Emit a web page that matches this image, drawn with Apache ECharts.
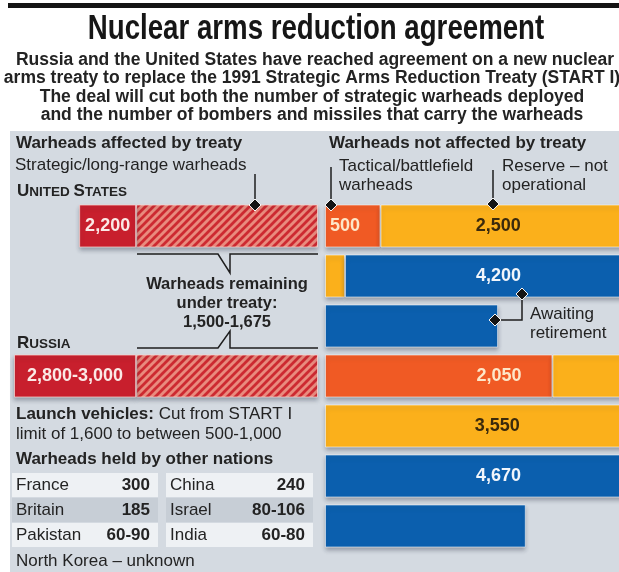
<!DOCTYPE html>
<html>
<head>
<meta charset="utf-8">
<title>Nuclear arms reduction agreement</title>
<script src="https://cdn.jsdelivr.net/npm/echarts@6/dist/echarts.min.js"></script>
<style>
  html, body { margin: 0; padding: 0; background: #fff; }
  #chart { width: 619px; height: 572px; }
</style>
</head>
<body>
<div id="chart"></div>
<script>
const countries = ['UNITED STATES', 'RUSSIA'];
const strategicTotal = [2200, 2800];            // Russia drawn at the low end of 2,800-3,000
const strategicLabels = ['2,200', '2,800-3,000'];
const remainingRange = [1500, 1675];
const tacticalWarheads = [500, 2050];
const reserveWarheads = [2500, 3550];
const awaitingRetirement = [4200, 4670];
const otherNations = ['France', 'Britain', 'Pakistan', 'China', 'Israel', 'India'];
const otherWarheads = ['300', '185', '60-90', '240', '80-106', '60-80'];

const FONT = '"Liberation Sans", Arial, sans-serif';
const INK = '#232323';

// right hand bars wrap onto the next row after ROW_MAX warheads;
// the picture is cut at the right edge, so only RIGHT_VISIBLE of each row shows
const ROW_MAX = 2820;
const RIGHT_VISIBLE = 2650;
const LEFT_MAX = 2800;

const segNames = ['Tactical/battlefield', 'Reserve', 'Awaiting retirement'];
const segValues = [tacticalWarheads, reserveWarheads, awaitingRetirement];
const segColors = ['#f05a24', '#fbb01b', '#0b5fae'];
const segLabelColors = ['#fde6c8', '#3b2a0c', '#f2f6fb'];
// label nudges [country][segment]
const labelNudge = [
  [{ position: 'insideLeft', distance: 5 }, { offset: [-11, 0] }, { offset: [7, 0] }],
  [{ position: 'insideRight', distance: 31 }, { offset: [18, 0] }, { offset: [17, 0] }]
];

function packRows(values, rowMax) {
  const rows = [];
  let row = values.map(() => 0), used = 0;
  values.forEach((v, i) => {
    let left = v;
    while (left > 0) {
      const take = Math.min(left, rowMax - used);
      row[i] += take; used += take; left -= take;
      if (used >= rowMax) { rows.push(row); row = values.map(() => 0); used = 0; }
    }
  });
  if (used > 0) rows.push(row);
  return rows;
}

const rowsPerCountry = countries.map((c, ci) => packRows(segValues.map(s => s[ci]), ROW_MAX));
const categories = [];
rowsPerCountry.forEach((rows, ci) => rows.forEach((r, ri) => categories.push(ci + '-' + ri)));
const firstRow = rowsPerCountry.map((rows, ci) => rowsPerCountry.slice(0, ci).reduce((n, r) => n + r.length, 0));

function hatch() {
  const c = document.createElement('canvas');
  c.width = c.height = 8;
  const g = c.getContext('2d');
  g.fillStyle = '#e98b7e';
  g.fillRect(0, 0, 8, 8);
  g.strokeStyle = '#cd2a31';
  g.lineWidth = 2.8;
  g.beginPath();
  g.moveTo(-2, 2); g.lineTo(2, -2);
  g.moveTo(0, 8); g.lineTo(8, 0);
  g.moveTo(6, 10); g.lineTo(10, 6);
  g.stroke();
  return c;
}

const barShadow = { shadowColor: 'rgba(40,50,70,0.35)', shadowBlur: 4, shadowOffsetY: 3 };

// left: strategic warheads, hatched part = remaining under treaty
const remainingData = categories.map(() => '-');
const cutData = categories.map(() => '-');
countries.forEach((c, ci) => {
  remainingData[firstRow[ci]] = remainingRange[1];
  cutData[firstRow[ci]] = {
    value: strategicTotal[ci] - remainingRange[1],
    label: { show: true, formatter: strategicLabels[ci] }
  };
});

const leftSeries = [
  {
    type: 'bar', name: 'Remaining', xAxisIndex: 0, yAxisIndex: 0, stack: 'left', barWidth: 43,
    itemStyle: Object.assign({ color: { image: hatch(), repeat: 'repeat' }, borderColor: 'rgba(255,220,215,0.7)', borderWidth: 1 }, barShadow),
    data: remainingData
  },
  {
    type: 'bar', name: 'Cut', xAxisIndex: 0, yAxisIndex: 0, stack: 'left', barWidth: 43,
    itemStyle: Object.assign({ color: '#c81f2d', borderColor: 'rgba(255,220,215,0.7)', borderWidth: 1 }, barShadow),
    label: { position: 'inside', color: '#fbe9e6', fontFamily: FONT, fontWeight: 'bold', fontSize: 18 },
    data: cutData
  }
];

const rightSeries = segNames.map((name, k) => {
  const data = [];
  rowsPerCountry.forEach((rows, ci) => {
    let best = 0;
    rows.forEach((r, ri) => { if (r[k] > rows[best][k]) best = ri; });
    rows.forEach((r, ri) => {
      if (!r[k]) { data.push('-'); return; }
      const item = { value: r[k] };
      if (ri === best) {
        item.label = Object.assign({ show: true, formatter: segValues[k][ci].toLocaleString('en-US') }, labelNudge[ci][k]);
      }
      data.push(item);
    });
  });
  return {
    type: 'bar', name, xAxisIndex: 1, yAxisIndex: 1, stack: 'right', barWidth: 43, clip: false,
    itemStyle: Object.assign({ color: segColors[k], borderColor: 'rgba(255,255,255,0.55)', borderWidth: 1 }, barShadow),
    label: { position: 'inside', color: segLabelColors[k], fontFamily: FONT, fontWeight: 'bold', fontSize: 18 },
    data
  };
});

function txt(x, y, text, o) {
  o = o || {};
  const el = {
    type: 'text', x, y, z: 50,
    style: {
      text, fill: o.fill || INK, fontFamily: FONT, fontSize: o.size || 17,
      fontWeight: o.bold ? 'bold' : 'normal', align: o.align || 'left', verticalAlign: 'middle',
      rich: o.rich
    }
  };
  if (o.scaleX) el.scaleX = o.scaleX;
  return el;
}
function line(points) {
  return { type: 'polyline', z: 60, shape: { points }, style: { stroke: '#1e1e1e', lineWidth: 1.5, fill: null } };
}
function diamond(x, y) {
  return {
    type: 'polygon', z: 70,
    shape: { points: [[x, y - 6], [x + 6, y], [x, y + 6], [x - 6, y]] },
    style: { fill: '#151515', stroke: '#f4f4f4', lineWidth: 1 }
  };
}

const smallCaps = {
  b: { fontSize: 17, fontWeight: 'bold', fontFamily: FONT, fill: INK, verticalAlign: 'bottom' },
  s: { fontSize: 13.5, fontWeight: 'bold', fontFamily: FONT, fill: INK, verticalAlign: 'bottom' }
};
function capsText(s) {
  return s.split(' ').map(w => '{b|' + w[0] + '}{s|' + w.slice(1) + '}').join('{s| }');
}

const elements = [
  { type: 'rect', z: 0, shape: { x: 8, y: 3, width: 611, height: 5 }, style: { fill: '#141414' } },
  { type: 'rect', z: 0, shape: { x: 10, y: 131, width: 609, height: 441 }, style: { fill: '#d4dae1' } },
  txt(316, 29, 'Nuclear arms reduction agreement', { size: 35, bold: true, align: 'center', fill: '#161616', scaleX: 0.79 }),
  txt(315, 60, 'Russia and the United States have reached agreement on a new nuclear', { size: 17.5, bold: true, align: 'center' }),
  txt(312, 78.5, 'arms treaty to replace the 1991 Strategic Arms Reduction Treaty (START I)', { size: 17.5, bold: true, align: 'center' }),
  txt(312, 97, 'The deal will cut both the number of strategic warheads deployed', { size: 17.5, bold: true, align: 'center' }),
  txt(312, 115.5, 'and the number of bombers and missiles that carry the warheads', { size: 17.5, bold: true, align: 'center' }),

  txt(16, 143, 'Warheads affected by treaty', { bold: true }),
  txt(15, 165, 'Strategic/long-range warheads'),
  txt(17, 191, capsText(countries[0]), { rich: smallCaps }),
  txt(17, 343, capsText(countries[1]), { rich: smallCaps }),

  txt(329, 143, 'Warheads not affected by treaty', { bold: true }),
  txt(339, 166, 'Tactical/battlefield'),
  txt(339, 185, 'warheads'),
  txt(502, 166, 'Reserve \u2013 not'),
  txt(502, 185, 'operational'),
  txt(530, 314, 'Awaiting'),
  txt(530, 333, 'retirement'),

  line([[255, 174], [255, 204]]), diamond(255, 205),
  line([[331, 167], [331, 204]]), diamond(331, 205),
  line([[493, 170], [493, 203]]), diamond(493, 204),
  line([[522, 294], [522, 320], [495, 320]]), diamond(522, 294), diamond(495, 320),

  line([[137, 254], [218, 254], [230, 273], [230, 254], [318, 254]]),
  line([[137, 348], [218, 348], [230, 331], [230, 348], [318, 348]]),
  txt(227, 284, 'Warheads remaining', { size: 16.5, bold: true, align: 'center' }),
  txt(227, 303, 'under treaty:', { size: 16.5, bold: true, align: 'center' }),
  txt(227, 322, remainingRange.map(v => v.toLocaleString('en-US')).join('-'), { size: 16.5, bold: true, align: 'center' }),

  txt(16, 414, '{b|Launch vehicles:} Cut from START I', { rich: { b: { fontSize: 17, fontWeight: 'bold', fontFamily: FONT, fill: INK } } }),
  txt(16, 434, 'limit of 1,600 to between 500-1,000'),
  txt(16, 459, 'Warheads held by other nations', { bold: true }),
  txt(16, 561, 'North Korea \u2013 unknown')
];

// table of other nations: 3 rows x 2 columns
const cellCols = [[12, 146], [166, 147]];
otherNations.forEach((name, i) => {
  const col = Math.floor(i / 3), row = i % 3;
  const y = 473 + row * 25;
  const [cx, cw] = cellCols[col];
  elements.push({
    type: 'rect', z: 1, shape: { x: cx, y, width: cw, height: 24 },
    style: { fill: row === 1 ? '#c7ced6' : '#eef1f4' }
  });
  elements.push(txt(cx + 4, y + 12.5, name));
  elements.push(txt(cx + cw - 8, y + 12.5, otherWarheads[i], { bold: true, align: 'right' }));
});

const chart = echarts.init(document.getElementById('chart'));
chart.setOption({
  animation: false,
  grid: [
    { left: 14, top: 201, width: 304, height: 350 },
    { left: 325, top: 201, right: 0, height: 350 }
  ],
  xAxis: [
    { gridIndex: 0, type: 'value', min: 0, max: LEFT_MAX, inverse: true, show: false },
    { gridIndex: 1, type: 'value', min: 0, max: RIGHT_VISIBLE, show: false }
  ],
  yAxis: [
    { gridIndex: 0, type: 'category', data: categories, inverse: true, show: false },
    { gridIndex: 1, type: 'category', data: categories, inverse: true, show: false }
  ],
  series: leftSeries.concat(rightSeries),
  graphic: { elements }
});
</script>
</body>
</html>
